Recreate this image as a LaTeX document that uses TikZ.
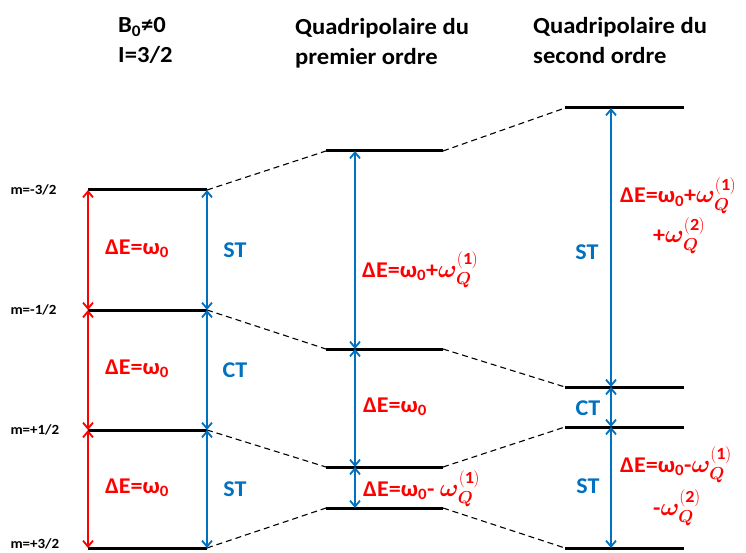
\documentclass[tikz,border=0pt]{standalone}
\usepackage{amsmath,amssymb,bm}
\usepackage{fontspec}
\setmainfont[FakeStretch=1.07]{Carlito}
\usetikzlibrary{arrows.meta}
\definecolor{stblue}{RGB}{0,112,192}
\DeclareMathSizes{28}{28}{17}{12}
\newcommand{\wQ}[1]{{\fontsize{28}{30}\selectfont$\bm{\omega}_{\bm{Q}}^{(\mathbf{#1})}$}}

\begin{document}
\begin{tikzpicture}[x=1pt,y=-1pt,every node/.style={font=\bfseries\fontsize{22.5}{26}\selectfont},
	level/.style={line width=3pt},
	linkline/.style={line width=1.1pt, dash pattern=on 6pt off 4pt},
	redarr/.style={red, line width=1.8pt, {Straight Barb[length=6pt,width=10pt]}-{Straight Barb[length=6pt,width=10pt]}},
	bluearr/.style={stblue, line width=1.8pt, {Straight Barb[length=6pt,width=10pt]}-{Straight Barb[length=6pt,width=10pt]}},
	head/.style={anchor=base west, align=left, inner sep=0pt, font=\bfseries\fontsize{23}{30}\selectfont},
	mlab/.style={font=\bfseries\fontsize{14}{16}\selectfont, anchor=west}]
	\useasboundingbox (0,0) rectangle (746,553);
	% levels: a = B0 only, b = first order, c = second order
	\foreach \n/\y in {1/190, 2/310, 3/430, 4/548} {\coordinate (a\n l) at (88,\y); \coordinate (a\n r) at (207,\y);}
	\foreach \n/\y in {1/151, 2/349, 3/467, 4/508} {\coordinate (b\n l) at (326,\y); \coordinate (b\n r) at (443,\y); \coordinate (b\n m) at (355,\y);}
	\foreach \n/\y in {1/108, 2/387, 3/427, 4/548} {\coordinate (c\n l) at (565,\y); \coordinate (c\n r) at (684,\y); \coordinate (c\n m) at (611,\y);}
	\foreach \c in {a,b,c} {\foreach \n in {1,...,4} {\draw[level] (\c\n l) -- (\c\n r);}}
	\foreach \n in {1,...,4} {\draw[linkline] (a\n r) -- (b\n l); \draw[linkline] (b\n r) -- (c\n l);}
	% transitions
	\foreach \p/\q in {1/2, 2/3, 3/4} {\draw[redarr] (a\p l) -- (a\q l); \draw[bluearr] (a\p r) -- (a\q r); \draw[bluearr] (b\p m) -- (b\q m); \draw[bluearr] (c\p m) -- (c\q m);}
	% m labels
	\node[mlab] (m1) at (7,190) {m=-3/2};
	\node[mlab] (m2) at (7,310) {m=-1/2};
	\node[mlab] (m3) at (7,430) {m=+1/2};
	\node[mlab] (m4) at (7,544) {m=+3/2};
	% headers (base = last line)
	\node[head] (h1) at (118,63) {B\textsubscript{0}≠0\\I=3/2};
	\node[head] (h2) at (295,65) {Quadripolaire du\\premier ordre};
	\node[head] (h3) at (533,64) {Quadripolaire du\\second ordre};
	% energies
	\node[red] (e1) at (137,249) {ΔE=ω\textsubscript{0}};
	\node[red] (e2) at (137,369) {ΔE=ω\textsubscript{0}};
	\node[red] (e3) at (137,488) {ΔE=ω\textsubscript{0}};
	\node[stblue] (t1) at (235,250) {ST};
	\node[stblue] (t2) at (235,370) {CT};
	\node[stblue] (t3) at (235,489) {ST};
	\node[red, anchor=base west, inner sep=0pt] (e4) at (362,277) {ΔE=ω\textsubscript{0}+\wQ{1}};
	\node[red] (e5) at (395,407) {ΔE=ω\textsubscript{0}};
	\node[red, anchor=base west, inner sep=0pt] (e6) at (363,496) {ΔE=ω\textsubscript{0}- \wQ{1}};
	\node[stblue] (t4) at (587,252) {ST};
	\node[stblue] (t5) at (588,408) {CT};
	\node[stblue] (t6) at (588,486) {ST};
	\node[red, anchor=base west, inner sep=0pt] (e7) at (620,203) {ΔE=ω\textsubscript{0}+\wQ{1}};
	\node[red, anchor=base west, inner sep=0pt] (e8) at (653,243) {+\wQ{2}};
	\node[red, anchor=base west, inner sep=0pt] (e9) at (620,472) {ΔE=ω\textsubscript{0}-\wQ{1}};
	\node[red, anchor=base west, inner sep=0pt] (e10) at (653,515) {-\wQ{2}};
\end{tikzpicture}
\end{document}
